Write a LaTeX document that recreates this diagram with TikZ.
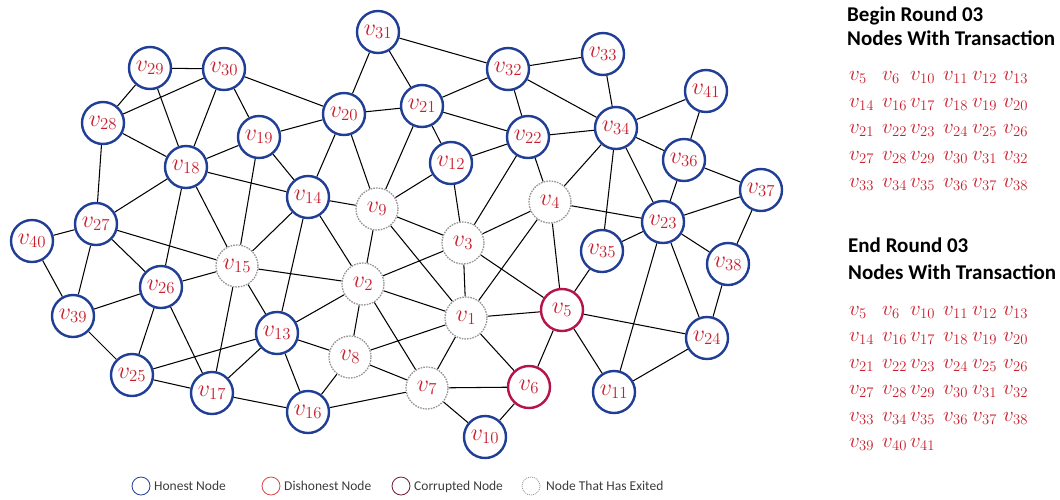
\RequirePackage{fix-cm}
\documentclass[tikz,border=0pt]{standalone}
\usepackage{fontspec}
\newfontfamily\calfont{Carlito}
\usetikzlibrary{backgrounds}
\definecolor{hblue}{RGB}{32,62,150}
\definecolor{lblred}{RGB}{200,30,45}
\definecolor{corred}{RGB}{180,20,75}
\definecolor{disred}{RGB}{215,70,70}
\definecolor{corlg}{RGB}{110,25,55}
\definecolor{exgray}{RGB}{150,150,150}
\definecolor{legtxt}{RGB}{60,60,60}
\newcommand\lrow[3]{\foreach \n [count=\i] in {#3} {\pgfmathsetmacro\xx{{849,882,910,943,972,1003}[\i-1]}\node[lst] (#2\n) at (\xx,#1) {$v_{\n}$};}}
\begin{document}
\begin{tikzpicture}[x=1pt,y=-1pt,
  hon/.style={circle,draw=hblue,line width=2.4pt,fill=white,minimum size=42pt,inner sep=0pt,text=lblred,font=\fontsize{24}{24}\selectfont},
  ext/.style={hon,draw=exgray,line width=1.3pt,dash pattern=on 1.6pt off 1.1pt},
  cor/.style={hon,draw=corred},
  edge/.style={line width=1.05pt,black},
  lst/.style={anchor=base west,inner sep=0pt,text=lblred,font=\fontsize{21}{21}\selectfont},
  head/.style={anchor=base west,inner sep=0pt,font=\calfont\bfseries\fontsize{21}{21}\selectfont},
  legc/.style={circle,line width=0.8pt,minimum size=18pt,inner sep=0pt},
  legt/.style={anchor=base west,inner sep=0pt,text=legtxt,font=\calfont\fontsize{13.5}{13.5}\selectfont}]
\useasboundingbox (0,0) rectangle (1060,499);
% nodes
\foreach \n/\x/\y in {1/466/318,2/363/284,3/463/243,4/550/202,7/427/388,8/350/357,9/377/209,15/237/266}
  \node[ext] (v\n) at (\x,\y) {$v_{\n}$};
\foreach \n/\x/\y in {5/562/310,6/529/387}
  \node[cor] (v\n) at (\x,\y) {$v_{\n}$};
\foreach \n/\x/\y in {10/485/437,11/614/392,12/451/163,13/277/333,14/308/197,16/308/412,17/212/393,18/186/167,19/259/137,20/344/114,21/422/106,22/528/137,23/663/222,24/707/338,25/132/375,26/161/287,27/96/224,28/103/123,29/150/68,30/224/69,31/378/32,32/508/69,33/603/54,34/616/128,35/602/251,36/684/160,37/761/190,38/728/264,39/73/316,40/32/241,41/706/91}
  \node[hon] (v\n) at (\x,\y) {$v_{\n}$};
% edges
\begin{scope}[on background layer]
\foreach \a/\b in {29/30,29/28,29/18,30/28,30/18,30/19,30/20,28/18,28/27,18/19,18/27,18/14,18/26,18/15,19/15,19/14,19/20,27/15,15/26,15/14,15/2,15/13,15/17,14/13,14/2,14/9,14/20,20/9,20/21,20/31,31/21,31/32,21/32,21/22,21/12,21/9,12/9,12/22,12/3,22/3,22/4,22/32,22/34,32/33,32/34,33/34,34/41,34/36,34/4,34/35,34/23,41/36,36/37,36/23,37/23,37/38,4/23,23/35,23/38,23/24,23/11,38/24,24/5,24/11,5/35,5/4,5/11,5/6,5/1,5/3,4/3,4/1,3/9,3/2,3/1,9/2,9/1,2/1,2/13,2/8,2/7,1/8,1/7,1/6,7/6,7/10,7/8,7/16,6/10,8/13,8/16,13/16,13/17,13/25,17/16,17/25,17/26,25/26,25/39,26/39,26/27,27/39,27/40,40/39}
  \draw[edge] (v\a) -- (v\b);
\end{scope}
% legend
\node[legc,draw=hblue] (lg1) at (141,486) {};
\node[legt] (lt1) at (154,490) {Honest Node};
\node[legc,draw=disred] (lg2) at (271,486) {};
\node[legt] (lt2) at (284,490) {Dishonest Node};
\node[legc,draw=corlg] (lg3) at (401,486) {};
\node[legt] (lt3) at (414,490) {Corrupted Node};
\node[legc,draw=exgray,dash pattern=on 1pt off 1pt] (lg4) at (531,486) {};
\node[legt] (lt4) at (546,490) {Node That Has Exited};
% right text
\node[head] (h1) at (847,21) {Begin Round 03};
\node[head] (h2) at (847,45) {Nodes With Transaction};
\lrow{80}{b}{5,6,10,11,12,13}
\lrow{107}{b}{14,16,17,18,19,20}
\lrow{133}{b}{21,22,23,24,25,26}
\lrow{160}{b}{27,28,29,30,31,32}
\lrow{187}{b}{33,34,35,36,37,38}
\node[head] (h3) at (848,252) {End Round 03};
\node[head] (h4) at (848,279) {Nodes With Transaction};
\lrow{315}{e}{5,6,10,11,12,13}
\lrow{341.5}{e}{14,16,17,18,19,20}
\lrow{368}{e}{21,22,23,24,25,26}
\lrow{394.5}{e}{27,28,29,30,31,32}
\lrow{421}{e}{33,34,35,36,37,38}
\lrow{447.5}{e}{39,40,41}
\end{tikzpicture}
\end{document}
